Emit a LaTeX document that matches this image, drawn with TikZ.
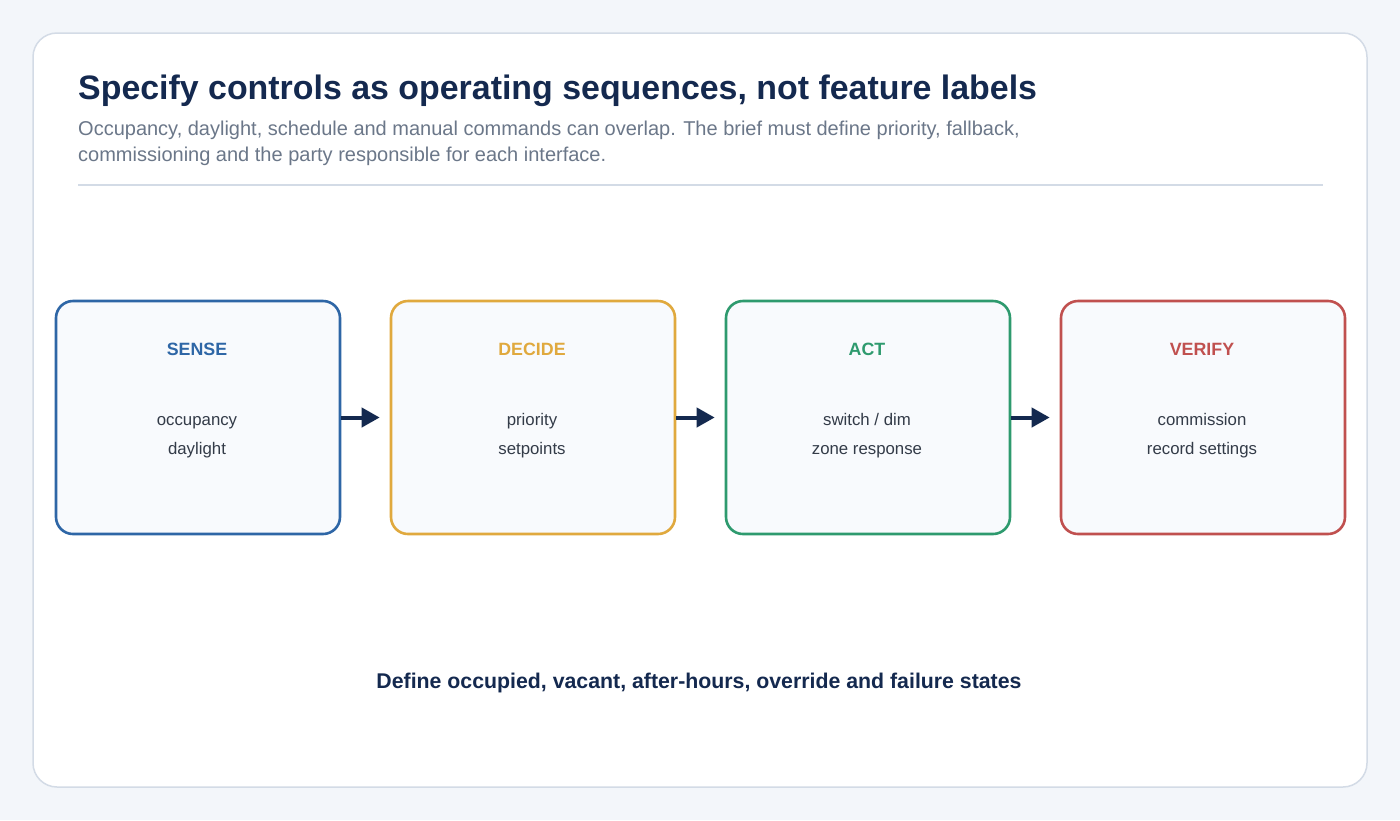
\documentclass[tikz,border=0pt]{standalone}
\usepackage{fontspec}
\setmainfont{Liberation Sans}
\usetikzlibrary{arrows.meta}
\definecolor{pagebg}{HTML}{F3F6FA}
\definecolor{cardline}{HTML}{D3DBE6}
\definecolor{navy}{HTML}{14294F}
\definecolor{subgray}{HTML}{6B7789}
\definecolor{bodytext}{HTML}{333B48}
\definecolor{boxfill}{HTML}{F8FAFD}
\definecolor{cblue}{HTML}{2E66A6}
\definecolor{cgold}{HTML}{E0A93E}
\definecolor{cgreen}{HTML}{2E9A6E}
\definecolor{cred}{HTML}{C0504F}
\tikzset{
  stagebox/.style={draw=#1, line width=2.6pt, fill=boxfill, rounded corners=17pt,
    minimum width=284pt, minimum height=233pt, inner sep=0pt},
  stagehead/.style={anchor=base, text=#1, font=\fontsize{17.8}{21}\selectfont\bfseries},
  stagebody/.style={anchor=base, text=bodytext, font=\fontsize{16.8}{20}\selectfont},
  flowarrow/.style={draw=navy, line width=4pt, -{Triangle[length=18pt,width=19pt]}, shorten >=10pt}
}
\begin{document}
\begin{tikzpicture}[x=1pt,y=-1pt]
\useasboundingbox (0,0) rectangle (1400,820);
\fill[pagebg] (0,0) rectangle (1400,820);
\draw[cardline, line width=1.5pt, fill=white, rounded corners=24pt] (33,33) rectangle (1367,787);
\node[anchor=base west, inner sep=0pt, text=navy, font=\fontsize{33.9}{40}\selectfont\bfseries] (title) at (78,99) {Specify controls as operating sequences, not feature labels};
\node[anchor=base west, inner sep=0pt, text=subgray, font=\fontsize{20}{26}\selectfont] (sub1) at (78,135) {Occupancy, daylight, schedule and manual commands can overlap. The brief must define priority, fallback,};
\node[anchor=base west, inner sep=0pt, text=subgray, font=\fontsize{20}{26}\selectfont] (sub2) at (78,161) {commissioning and the party responsible for each interface.};
\draw[cardline, line width=2pt] (78,185) -- (1323,185);

\node[stagebox=cblue] (sense) at (198,417.5) {};
\node[stagebox=cgold] (decide) at (533,417.5) {};
\node[stagebox=cgreen] (act) at (868,417.5) {};
\node[stagebox=cred] (verify) at (1203,417.5) {};

\node[stagehead=cblue] (senseh) at (197,355.5) {SENSE};
\node[stagebody] (senseb1) at (197,425.5) {occupancy};
\node[stagebody] (senseb2) at (197,454.5) {daylight};

\node[stagehead=cgold] (decideh) at (532,355.5) {DECIDE};
\node[stagebody] (decideb1) at (532,425.5) {priority};
\node[stagebody] (decideb2) at (532,454.5) {setpoints};

\node[stagehead=cgreen] (acth) at (867,355.5) {ACT};
\node[stagebody] (actb1) at (867,425.5) {switch / dim};
\node[stagebody] (actb2) at (867,454.5) {zone response};

\node[stagehead=cred] (verifyh) at (1202,355.5) {VERIFY};
\node[stagebody] (verifyb1) at (1202,425.5) {commission};
\node[stagebody] (verifyb2) at (1202,454.5) {record settings};

\draw[flowarrow] (sense.east) -- (decide.west);
\draw[flowarrow] (decide.east) -- (act.west);
\draw[flowarrow] (act.east) -- (verify.west);

\node[anchor=base, text=navy, font=\fontsize{21.3}{25}\selectfont\bfseries] (foot) at (699,688.5) {Define occupied, vacant, after-hours, override and failure states};
\end{tikzpicture}
\end{document}
